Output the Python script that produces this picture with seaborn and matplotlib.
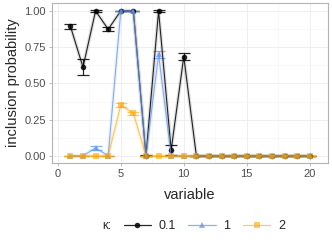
import numpy as np
import pandas as pd
import matplotlib
matplotlib.use("Agg")
import matplotlib.pyplot as plt
import seaborn as sns

variable = list(range(1, 21))
kappa_labels = ["0.1", "1", "2"]
p_01 = [0.895, 0.612, 1.0, 0.874, 1.0, 1.0, 0.0, 1.0, 0.04, 0.685] + [0.0] * 10
e_01 = [0.017, 0.054, 0.004, 0.014, 0.0, 0.0, 0.004, 0.004, 0.036, 0.023] + [0.0] * 10
p_1 = [0.0, 0.0, 0.055, 0.0, 1.0, 1.0, 0.0, 0.70, 0.0, 0.0] + [0.0] * 10
e_1 = [0.0, 0.0, 0.012, 0.0, 0.003, 0.003, 0.0, 0.025, 0.0, 0.0] + [0.0] * 10
p_2 = [0.0, 0.0, 0.0, 0.0, 0.35, 0.294, 0.0, 0.0, 0.0, 0.0] + [0.0] * 10
e_2 = [0.0, 0.0, 0.0, 0.0, 0.013, 0.012, 0.0, 0.0, 0.0, 0.0] + [0.0] * 10

colors = {"0.1": "black", "1": "#6495ED", "2": "#FFA500"}
markers = {"0.1": "o", "1": "^", "2": "s"}

df = pd.DataFrame({
    "variable": variable * 3,
    "prob": p_01 + p_1 + p_2,
    "err": e_01 + e_1 + e_2,
    "kappa": [k for k in kappa_labels for _ in variable],
})

sns.set_theme(style="white")
plt.rcParams["font.family"] = ["Liberation Sans", "DejaVu Sans"]

fig = plt.figure(figsize=(3.32, 2.49), dpi=100)
ax = fig.add_axes([0.157, 0.345, 0.831, 0.643])

alphas = {"0.1": 0.85, "1": 0.75, "2": 0.6}
for k in kappa_labels:
    d = df[df.kappa == k]
    # soft shadow around the mean line
    ax.plot(d.variable, d.prob, color=colors[k], lw=2.6, alpha=0.12, zorder=2)
    ax.errorbar(d.variable, d.prob, yerr=d.err, fmt="none", ecolor=colors[k],
                elinewidth=0.9, capsize=4.2, capthick=0.9, alpha=alphas[k], zorder=3)

sns.lineplot(data=df, x="variable", y="prob", hue="kappa", style="kappa",
             palette=colors, markers=markers, dashes=False, lw=0.8,
             markersize=4, markeredgewidth=0, ax=ax, legend=False, zorder=4)
for line, k in zip(ax.lines[-3:], kappa_labels):
    line.set_alpha(alphas[k])

ax.set_xlim(-0.45, 21.45)
ax.set_ylim(-0.05, 1.055)
ax.set_xticks([0, 5, 10, 15, 20])
ax.set_yticks([0, 0.25, 0.5, 0.75, 1.0])
ax.set_yticklabels(["0.00", "0.25", "0.50", "0.75", "1.00"])
ax.set_xticks(np.arange(2.5, 21, 5), minor=True)
ax.set_yticks(np.arange(0.125, 1.05, 0.25), minor=True)
ax.grid(True, which="major", color="#EBEBEB", lw=0.6)
ax.grid(True, which="minor", color="#F4F4F4", lw=0.4)
ax.set_axisbelow(True)
for s in ax.spines.values():
    s.set_color("#B3B3B3")
    s.set_linewidth(0.8)
ax.tick_params(which="major", length=2.5, width=0.6, color="#B3B3B3",
               labelsize=8, labelcolor="#4D4D4D", pad=2, bottom=True, left=True)
ax.tick_params(which="minor", length=0)
ax.set_xlabel("variable", fontsize=10.5, labelpad=6)
ax.set_ylabel("inclusion probability", fontsize=10.5, labelpad=3)

handles = [plt.Line2D([], [], color=colors[k], marker=markers[k], lw=0.9,
                      markersize=4, markeredgewidth=0, alpha=alphas[k])
           for k in kappa_labels]
fig.text(0.308, 0.092, "κ:", fontsize=8.5, va="center", ha="left")
fig.legend(handles, kappa_labels, loc="center left", bbox_to_anchor=(0.372, 0.092),
           ncol=3, frameon=False, fontsize=9, handlelength=2.2, handletextpad=0.6,
           columnspacing=1.0, borderpad=0, borderaxespad=0)

fig.savefig("out.png", dpi=100)
